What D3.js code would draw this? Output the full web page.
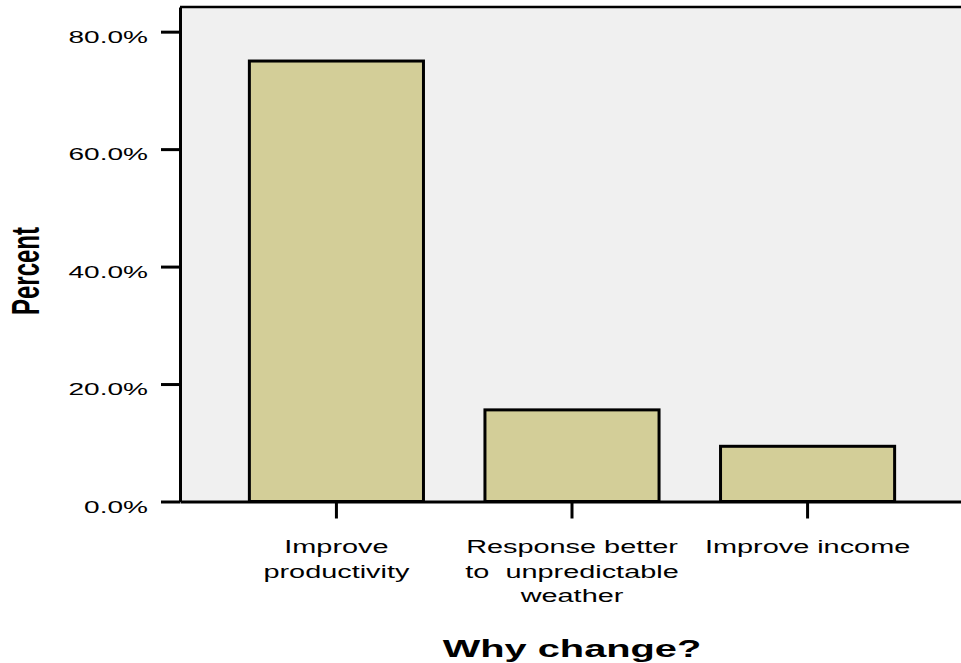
<!DOCTYPE html>
<html>
<head>
<meta charset="utf-8">
<script src="https://cdn.jsdelivr.net/npm/d3@7"></script>
<style>
  html, body { margin: 0; padding: 0; background: #fff; }
  svg { display: block; font-family: "Liberation Sans", Arial, sans-serif; }
</style>
</head>
<body>
<div id="chart"></div>
<script>
// values
const categories = ['Improve productivity', 'Response better to unpredictable weather', 'Improve income'];
const labelLines = [['Improve', 'productivity'], ['Response better', 'to  unpredictable', 'weather'], ['Improve income']];
const percents = [75.0, 15.6, 9.4];
const yTicks = [0, 20, 40, 60, 80];
const xTitle = 'Why change?';
const yTitle = 'Percent';

const width = 961, height = 663;
const plot = { left: 180, right: 964, top: 7, bottom: 501.5 };
const stretch = 1.65; // text in the source is drawn wide

const svg = d3.select('#chart').append('svg')
  .attr('width', width).attr('height', height);

const x = d3.scaleBand().domain(categories)
  .range([plot.left, plot.right]).paddingInner(0.261).paddingOuter(0.2945);
const y = d3.scaleLinear().domain([0, 84.2]).range([plot.bottom, plot.top]);

svg.append('rect')
  .attr('x', plot.left).attr('y', plot.top)
  .attr('width', width - plot.left).attr('height', plot.bottom - plot.top)
  .attr('fill', '#f0f0f0');

svg.selectAll('.bar').data(percents).enter().append('rect')
  .attr('class', 'bar')
  .attr('x', (d, i) => x(categories[i]))
  .attr('y', (d) => y(d))
  .attr('width', x.bandwidth())
  .attr('height', (d) => y(0) - y(d))
  .attr('fill', '#d3ce98')
  .attr('stroke', '#000')
  .attr('stroke-width', 3);

// top border
svg.append('line')
  .attr('x1', plot.left).attr('x2', width)
  .attr('y1', plot.top).attr('y2', plot.top)
  .attr('stroke', '#000').attr('stroke-width', 2.5);

const yAxis = svg.append('g').attr('transform', 'translate(' + plot.left + ',0)')
  .call(d3.axisLeft(y).tickValues(yTicks).tickSize(19).tickSizeOuter(0)
    .tickFormat((d) => d.toFixed(1) + '%'));
yAxis.select('.domain').attr('stroke-width', 3);
yAxis.selectAll('.tick line').attr('stroke-width', 3);
yAxis.selectAll('.tick text')
  .attr('x', 0).attr('y', 0).attr('dy', null)
  .attr('transform', 'translate(-32,10.5) scale(' + stretch + ',1)')
  .attr('font-size', 17).attr('fill', '#000')
  .attr('font-family', '"Liberation Sans", Arial, sans-serif');

const xAxis = svg.append('g').attr('transform', 'translate(0,' + plot.bottom + ')')
  .call(d3.axisBottom(x).tickSize(17).tickSizeOuter(0).tickFormat(''));
xAxis.select('.domain').attr('stroke-width', 3);
xAxis.selectAll('.tick line').attr('stroke-width', 3);

// wrapped category labels
categories.forEach((cat, i) => {
  const cx = x(cat) + x.bandwidth() / 2;
  labelLines[i].forEach((line, j) => {
    svg.append('text')
      .attr('transform', 'translate(' + cx + ',' + (plot.bottom + 51.5 + j * 24.5) + ') scale(' + stretch + ',1)')
      .attr('text-anchor', 'middle')
      .attr('font-size', 17.5)
      .style('white-space', 'pre')
      .text(line);
  });
});

svg.append('text')
  .attr('transform', 'translate(572,656.5) scale(1.73,1)')
  .attr('text-anchor', 'middle')
  .attr('font-size', 23).attr('font-weight', 'bold')
  .text(xTitle);

svg.append('text')
  .attr('transform', 'translate(39,271) scale(' + stretch + ',1) rotate(-90)')
  .attr('text-anchor', 'middle')
  .attr('font-size', 24).attr('font-weight', 'bold')
  .text(yTitle);
</script>
</body>
</html>
